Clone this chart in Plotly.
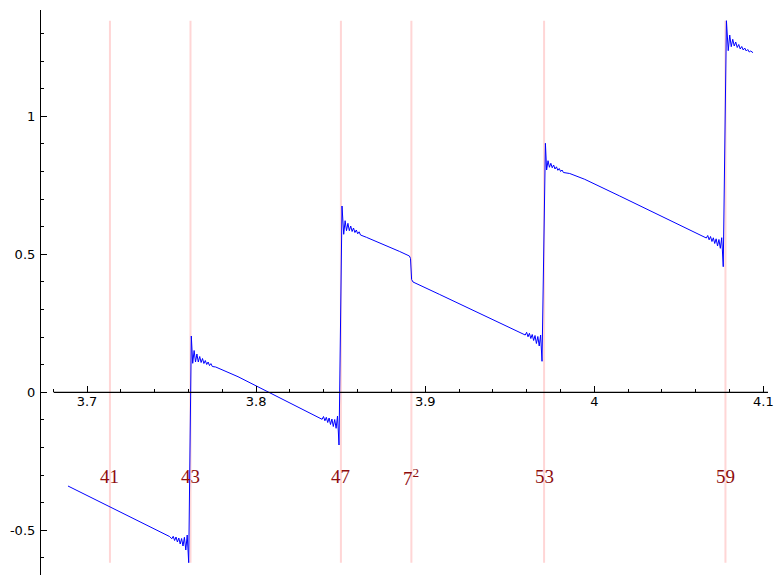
import plotly.graph_objects as go

# ---- data (x = log t, y = value) ----
curve_x = [
    3.68876, 3.71360, 3.73708, 3.74891,
    3.75015, 3.75098, 3.75180, 3.75263, 3.75346, 3.75429, 3.75512, 3.75594,
    3.75677, 3.75760, 3.75843, 3.75926, 3.76014,
    3.76168, 3.76251, 3.76334, 3.76416, 3.76499, 3.76582, 3.76665, 3.76748,
    3.76830, 3.76913, 3.76996, 3.77079, 3.77162, 3.77244, 3.77327, 3.77410,
    3.77611, 3.78930, 3.80739, 3.82578, 3.83643,
    3.83903, 3.83986, 3.84069, 3.84151, 3.84234, 3.84317, 3.84400, 3.84483,
    3.84565, 3.84648, 3.84731, 3.84814, 3.84902,
    3.85080, 3.85180, 3.85263, 3.85346, 3.85429, 3.85512, 3.85594, 3.85677,
    3.85760, 3.85843, 3.85926, 3.86008, 3.86091, 3.86174,
    3.86523, 3.87309, 3.88492, 3.89066, 3.89131, 3.89196, 3.89279,
    3.90858, 3.92436, 3.94701, 3.95707,
    3.95914, 3.95997, 3.96079, 3.96162, 3.96245, 3.96328, 3.96411, 3.96493,
    3.96576, 3.96659, 3.96742, 3.96824, 3.96907,
    3.97108, 3.97179, 3.97262, 3.97345, 3.97428, 3.97510, 3.97593, 3.97676,
    3.97759, 3.97842, 3.97924, 3.98007, 3.98090, 3.98173,
    3.98545, 3.99432, 4.01502, 4.03868, 4.05050, 4.06351,
    4.06623, 4.06706, 4.06789, 4.06872, 4.06955, 4.07037, 4.07120, 4.07203,
    4.07286, 4.07368, 4.07451, 4.07534, 4.07623,
    4.07812, 4.07918, 4.08007, 4.08096, 4.08185, 4.08273, 4.08362, 4.08451,
    4.08539, 4.08628, 4.08717, 4.08805, 4.08894, 4.08983, 4.09072, 4.09160,
    4.09249, 4.09385,
]
curve_y = [
    -0.33949, -0.41522, -0.48696, -0.52283,
    -0.53080, -0.52174, -0.53696, -0.52428, -0.54239, -0.52790, -0.54964, -0.52971,
    -0.55688, -0.52536, -0.57138, -0.51703, -0.61739,
    0.20399, 0.10507, 0.15145, 0.10978, 0.13877, 0.10978, 0.12971, 0.10797,
    0.12246, 0.10435, 0.11522, 0.10072, 0.10978, 0.09674, 0.10399, 0.09348,
    0.09167, 0.05652, 0.00000, -0.05797, -0.09022,
    -0.09783, -0.08768, -0.10326, -0.09058, -0.10942, -0.09312, -0.11667, -0.09674,
    -0.12391, -0.09855, -0.13043, -0.08587, -0.19094,
    0.67500, 0.57246, 0.62174, 0.58551, 0.61232, 0.58551, 0.60254, 0.58261,
    0.59529, 0.57899, 0.58804, 0.57428, 0.58152, 0.56993,
    0.56159, 0.54203, 0.51014, 0.49384, 0.48478, 0.40870, 0.39964,
    0.35435, 0.30797, 0.24130, 0.21196,
    0.20761, 0.21739, 0.20109, 0.21377, 0.19493, 0.20942, 0.18768, 0.20580,
    0.17681, 0.20217, 0.16775, 0.20761, 0.11232,
    0.90217, 0.80543, 0.83913, 0.81522, 0.82971, 0.81341, 0.82355, 0.80906,
    0.81703, 0.80435, 0.81087, 0.80000, 0.80543, 0.79638,
    0.79275, 0.77174, 0.71123, 0.64167, 0.60688, 0.56848,
    0.55906, 0.56812, 0.55254, 0.56449, 0.54638, 0.55978, 0.53913, 0.55616,
    0.53007, 0.55362, 0.52174, 0.56014, 0.45507,
    1.34638, 1.23768, 1.29457, 1.25217, 1.27899, 1.25471, 1.26920, 1.24928,
    1.26014, 1.24384, 1.25290, 1.24022, 1.24746, 1.23659, 1.24203, 1.23297,
    1.23659, 1.23043,
]

# prime (power) markers: positions log(p) and their labels
marker_x = [3.71357, 3.76120, 3.85015, 3.89182, 3.97029, 4.07754]
marker_labels = ["41", "43", "47", "7<sup>2</sup>", "53", "59"]
label_y = -0.306

x_tickvals = [3.7, 3.8, 3.9, 4.0, 4.1]
x_ticktext = ["3.7", "3.8", "3.9", "4", "4.1"]
y_tickvals = [-0.5, 0, 0.5, 1]
y_ticktext = ["-0.5", "0", "0.5", "1"]

X_RANGE = [3.6728, 4.1027]
Y_RANGE = [-0.66196, 1.38514]

ymin, ymax = min(curve_y), max(curve_y)

fig = go.Figure()

# pink vertical lines
vx, vy = [], []
for xv in marker_x:
    vx += [xv, xv, None]
    vy += [ymin, ymax, None]
fig.add_trace(go.Scatter(x=vx, y=vy, mode="lines",
                         line=dict(color="rgb(255,214,214)", width=2),
                         hoverinfo="skip", showlegend=False))

# the curve
fig.add_trace(go.Scatter(x=curve_x, y=curve_y, mode="lines",
                         line=dict(color="rgb(0,0,255)", width=1),
                         showlegend=False))

for xv, lab in zip(marker_x, marker_labels):
    fig.add_annotation(x=xv, y=label_y, text=lab, showarrow=False,
                       font=dict(family="Liberation Serif", size=19, color="#8e0c0c"),
                       xanchor="center", yanchor="middle")

xpos = (0 - Y_RANGE[0]) / (Y_RANGE[1] - Y_RANGE[0])

# horizontal axis line through y = 0
fig.add_shape(type="line", xref="x", yref="y", x0=3.6803, x1=X_RANGE[1], y0=0, y1=0,
              line=dict(color="black", width=1.2), layer="above")

fig.update_layout(
    width=783, height=584,
    margin=dict(l=41, r=15, t=10, b=9),
    paper_bgcolor="white", plot_bgcolor="white",
    font=dict(family="DejaVu Sans", size=13, color="black"),
    xaxis=dict(range=X_RANGE, anchor="free", position=xpos,
               showgrid=False, zeroline=False, showline=False,
               tickmode="array", tickvals=x_tickvals, ticktext=x_ticktext,
               ticks="inside", ticklen=6, tickwidth=1, tickcolor="black",
               tickfont=dict(family="DejaVu Sans", size=13, color="black"),
               minor=dict(tickmode="linear", tick0=3.7, dtick=0.02, ticks="inside",
                          ticklen=3, tickwidth=1, tickcolor="black", showgrid=False)),
    yaxis=dict(range=Y_RANGE, showgrid=False, zeroline=False,
               showline=True, linecolor="black", linewidth=1.2,
               tickmode="array", tickvals=y_tickvals, ticktext=y_ticktext,
               ticks="inside", ticklen=6, tickwidth=1, tickcolor="black",
               ticklabelstandoff=2,
               tickfont=dict(family="DejaVu Sans", size=13, color="black"),
               minor=dict(tickmode="linear", tick0=0, dtick=0.1, ticks="inside",
                          ticklen=3, tickwidth=1, tickcolor="black", showgrid=False)),
)

fig.write_html("out.html", config={"displayModeBar": False},
               post_script="document.body.style.margin='0';document.body.style.padding='0';")
